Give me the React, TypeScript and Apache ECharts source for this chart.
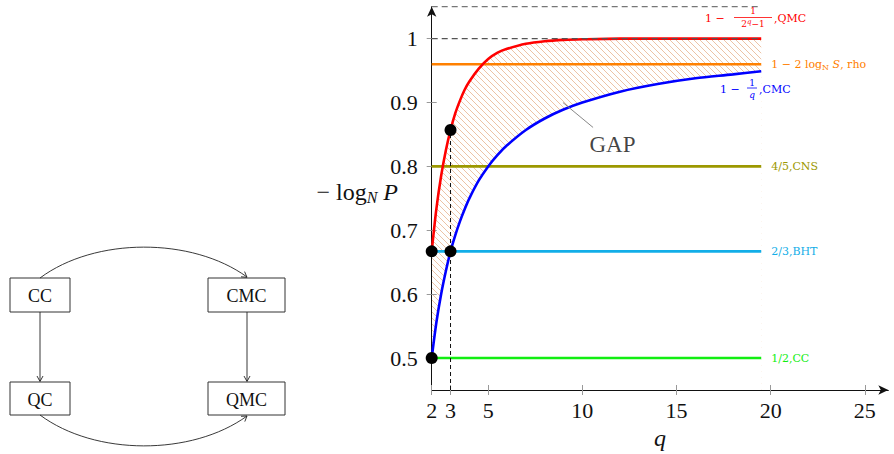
import React, { useEffect, useRef } from "react";
import * as echarts from "echarts";

// ---- data ----
const qSamples = [2, 2.25, 2.5, 2.75, 3, 3.25, 3.5, 3.75, 4, 4.5, 5, 5.5, 6, 7, 8, 9, 10, 12, 14, 16, 18, 19.5];
const qmcBound = [0.667, 0.734, 0.785, 0.825, 0.857, 0.883, 0.903, 0.92, 0.933, 0.953, 0.968, 0.978, 0.984, 0.992, 0.996, 0.998, 0.999, 1.0, 1.0, 1.0, 1.0, 1.0];
const cmcBound = [0.5, 0.556, 0.6, 0.636, 0.667, 0.692, 0.714, 0.733, 0.75, 0.778, 0.8, 0.818, 0.833, 0.857, 0.875, 0.889, 0.9, 0.917, 0.929, 0.938, 0.944, 0.949];
const levelNames = ["rho", "CNS", "BHT", "CC"];
const levelValues = [0.96, 0.8, 0.667, 0.5];
const levelLabels = ["1 − 2 log{sub|N} {it|S}, rho", "4/5,CNS", "2/3,BHT", "1/2,CC"];
const levelSpan = [2, 19.5];
const unitLevel = 1;
const topLevel = 1.05;
const xTicks = [2, 3, 5, 10, 15, 20, 25];
const yTicks = [0.5, 0.6, 0.7, 0.8, 0.9, 1];
const markerQ = [2, 2, 3, 3];
const markerValues = [0.5, 0.667, 0.667, 0.857];
const dropQ = 3;
const dropTop = 0.857;
const gapLabelAt = [11.6, 0.834];
const gapPointer = [[8.97, 0.9], [10.57, 0.861]];
const xRange = [2, 26.25];
const yRange = [0.45, 1.05];
const diagramNodes = ["CC", "CMC", "QC", "QMC"];

// ---- styles ----
const SERIF = "'Liberation Serif', 'DejaVu Serif', serif";
const SMALL = "'DejaVu Serif', serif";
const levelColors = ["#ff8000", "#9c9800", "#12aee8", "#11ee11"];
const RED = "#ff0000";
const BLUE = "#0000ff";

export default function App() {
  const ref = useRef<HTMLDivElement>(null);

  useEffect(() => {
    if (!ref.current) return;
    const chart = echarts.init(ref.current, null, { renderer: "svg" });

    const cv = document.createElement("canvas");
    cv.width = 6;
    cv.height = 6;
    const ctx = cv.getContext("2d")!;
    ctx.strokeStyle = "rgba(215,130,70,0.75)";
    ctx.lineWidth = 0.65;
    ctx.beginPath();
    ctx.moveTo(-1, -1);
    ctx.lineTo(7, 7);
    ctx.moveTo(-1, 5);
    ctx.lineTo(1, 7);
    ctx.moveTo(5, -1);
    ctx.lineTo(7, 1);
    ctx.stroke();
    const hatch: any = { image: cv, repeat: "repeat", imageWidth: 6, imageHeight: 6 };

    const redData = qSamples.map((q, i) => [q, qmcBound[i]]);
    const blueData = qSamples.map((q, i) => [q, cmcBound[i]]);

    const levelSeries = levelValues.map((v, i) => ({
      type: "line",
      name: levelNames[i],
      z: 4,
      data: [[levelSpan[0], v], [levelSpan[1], v]],
      symbol: "none",
      lineStyle: { color: levelColors[i], width: 2.6 },
      endLabel: {
        show: true,
        distance: 10,
        formatter: levelLabels[i],
        color: levelColors[i],
        fontFamily: SMALL,
        fontSize: 11,
        rich: {
          sub: { fontSize: 8, fontFamily: SMALL, color: levelColors[i], padding: [6, 0, 0, 0] },
          it: { fontSize: 11, fontFamily: SMALL, fontStyle: "italic", color: levelColors[i] },
        },
      },
    }));

    // left diagram
    const boxes = [
      { x: 10, y: 278, w: 60, h: 34 },
      { x: 208, y: 278, w: 77, h: 34 },
      { x: 10, y: 382, w: 60, h: 33 },
      { x: 208, y: 382, w: 77, h: 33 },
    ];
    const diagram: any[] = [];
    boxes.forEach((b, i) => {
      diagram.push({
        type: "rect",
        shape: { x: b.x, y: b.y, width: b.w, height: b.h },
        style: { fill: "#fff", stroke: "#333", lineWidth: 1 },
      });
      diagram.push({
        type: "text",
        x: b.x + b.w / 2,
        y: b.y + b.h / 2 + 1,
        style: { text: diagramNodes[i], fontFamily: SERIF, fontSize: 18, fill: "#111", align: "center", verticalAlign: "middle" },
      });
    });
    const arrowStyle = { stroke: "#222", lineWidth: 0.9, fill: null };
    diagram.push(
      { type: "line", shape: { x1: 40, y1: 312, x2: 40, y2: 381 }, style: arrowStyle },
      { type: "polyline", shape: { points: [[37, 376], [40, 381.5], [43, 376]] }, style: arrowStyle },
      { type: "line", shape: { x1: 247, y1: 312, x2: 247, y2: 381 }, style: arrowStyle },
      { type: "polyline", shape: { points: [[244, 376], [247, 381.5], [250, 376]] }, style: arrowStyle },
      { type: "bezierCurve", shape: { x1: 40, y1: 278, cpx1: 95, cpy1: 237, cpx2: 192, cpy2: 237, x2: 247, y2: 277 }, style: arrowStyle },
      { type: "polyline", shape: { points: [[241, 276.8], [247, 277.3], [244.6, 271.6]] }, style: arrowStyle },
      { type: "bezierCurve", shape: { x1: 40, y1: 415, cpx1: 95, cpy1: 456, cpx2: 192, cpy2: 456, x2: 247, y2: 416 }, style: arrowStyle },
      { type: "polyline", shape: { points: [[241, 416.3], [247, 416], [244.8, 421.6]] }, style: arrowStyle }
    );

    // fraction labels for the two bounds
    const fracLabels: any[] = [
      { type: "text", x: 705, y: 18, style: { text: "1 −", fontFamily: SMALL, fontSize: 11, fill: RED, verticalAlign: "middle" } },
      { type: "text", x: 753, y: 11, style: { text: "1", fontFamily: SMALL, fontSize: 9, fill: RED, align: "center", verticalAlign: "middle" } },
      { type: "line", shape: { x1: 734, y1: 17.5, x2: 772, y2: 17.5 }, style: { stroke: RED, lineWidth: 0.8 } },
      {
        type: "text", x: 753, y: 24,
        style: {
          text: "2{sup|q}−1", fontFamily: SMALL, fontSize: 9, fill: RED, align: "center", verticalAlign: "middle",
          rich: { sup: { fontSize: 7, fontStyle: "italic", fontFamily: SMALL, fill: RED, padding: [0, 0, 5, 0] } },
        },
      },
      { type: "text", x: 774, y: 18, style: { text: ",QMC", fontFamily: SMALL, fontSize: 11, fill: RED, verticalAlign: "middle" } },
      { type: "text", x: 720, y: 89, style: { text: "1 −", fontFamily: SMALL, fontSize: 11, fill: BLUE, verticalAlign: "middle" } },
      { type: "text", x: 752, y: 82.5, style: { text: "1", fontFamily: SMALL, fontSize: 9, fill: BLUE, align: "center", verticalAlign: "middle" } },
      { type: "line", shape: { x1: 747, y1: 88, x2: 757, y2: 88 }, style: { stroke: BLUE, lineWidth: 0.8 } },
      { type: "text", x: 752, y: 94.5, style: { text: "q", fontFamily: SMALL, fontStyle: "italic", fontSize: 9, fill: BLUE, align: "center", verticalAlign: "middle" } },
      { type: "text", x: 759, y: 89, style: { text: ",CMC", fontFamily: SMALL, fontSize: 11, fill: BLUE, verticalAlign: "middle" } },
      {
        type: "text", x: 398, y: 192,
        style: {
          text: "− log{sub|N} {it|P}", fontFamily: SERIF, fontSize: 24, fill: "#111", align: "right", verticalAlign: "middle",
          rich: {
            sub: { fontSize: 16, fontFamily: SERIF, fontStyle: "italic", fill: "#111", padding: [10, 0, 0, 0] },
            it: { fontSize: 24, fontFamily: SERIF, fontStyle: "italic", fill: "#111" },
          },
        },
      },
    ].map((g) => ({ ...g, z: 20 }));

    const tickStyle = { color: "#999", width: 1 };

    chart.setOption({
      animation: false,
      backgroundColor: "#fff",
      grid: {
        left: 431.7,
        top: 6.7,
        width: (xRange[1] - xRange[0]) * 18.83,
        height: 383.3,
        containLabel: false,
        outerBoundsMode: "none",
      },
      xAxis: [
        {
          type: "value",
          min: xRange[0],
          max: xRange[1],
          z: 3,
          name: "q",
          nameLocation: "middle",
          nameGap: 36,
          nameTextStyle: { fontFamily: SERIF, fontSize: 24, fontStyle: "italic", color: "#111" },
          axisLine: { show: true, onZero: false, symbol: ["none", "arrow"], symbolSize: [7, 10], lineStyle: { color: "#111", width: 1 } },
          axisTick: { show: true, customValues: xTicks, length: 5, lineStyle: tickStyle },
          axisLabel: { show: true, customValues: xTicks, margin: 9, fontFamily: SERIF, fontSize: 22, color: "#111" },
          splitLine: { show: false },
        },
        {
          type: "value",
          min: xRange[0],
          max: xRange[1],
          position: "bottom",
          z: 3,
          axisLine: { show: false },
          axisTick: { show: true, inside: true, customValues: xTicks, length: 5, lineStyle: tickStyle },
          axisLabel: { show: false },
          splitLine: { show: false },
        },
      ],
      yAxis: [
        {
          type: "value",
          min: yRange[0],
          max: yRange[1],
          z: 3,
          axisLine: { show: true, onZero: false, symbol: ["none", "arrow"], symbolSize: [7, 10], lineStyle: { color: "#111", width: 1 } },
          axisTick: { show: true, customValues: yTicks, length: 5, lineStyle: tickStyle },
          axisLabel: {
            show: true,
            customValues: yTicks,
            margin: 14,
            fontFamily: SERIF,
            fontSize: 22,
            color: "#111",
            formatter: (v: number) => (v === 1 ? "1" : v.toFixed(1)),
          },
          splitLine: { show: false },
        },
        {
          type: "value",
          min: yRange[0],
          max: yRange[1],
          position: "left",
          z: 3,
          axisLine: { show: false },
          axisTick: { show: true, inside: true, customValues: yTicks, length: 5, lineStyle: tickStyle },
          axisLabel: { show: false },
          splitLine: { show: false },
        },
      ],
      graphic: [...diagram, ...fracLabels],
      series: [
        {
          type: "line",
          name: "gapHatch",
          z: 1,
          data: redData,
          smooth: 0.3,
          symbol: "none",
          lineStyle: { width: 0 },
          areaStyle: { color: hatch, opacity: 1, origin: "start" },
          silent: true,
        },
        {
          type: "line",
          name: "mask",
          z: 2,
          data: blueData,
          smooth: 0.3,
          symbol: "none",
          lineStyle: { width: 0 },
          areaStyle: { color: "#ffffff", opacity: 1, origin: "start" },
          silent: true,
        },
        ...levelSeries,
        {
          type: "line",
          name: "CMC",
          z: 5,
          data: blueData,
          smooth: 0.3,
          symbol: "none",
          lineStyle: { color: BLUE, width: 2.6 },
        },
        {
          type: "line",
          name: "QMC",
          z: 5,
          data: redData,
          smooth: 0.3,
          symbol: "none",
          lineStyle: { color: RED, width: 2.6 },
        },
        {
          type: "line",
          name: "one",
          z: 6,
          data: [[levelSpan[0], unitLevel], [levelSpan[1], unitLevel]],
          symbol: "none",
          lineStyle: { color: "#555", width: 1.2, type: [6, 4] },
        },
        {
          type: "line",
          name: "top",
          z: 6,
          data: [[levelSpan[0], topLevel], [levelSpan[1], topLevel]],
          symbol: "none",
          lineStyle: { color: "#777", width: 1.2, type: [6, 4] },
        },
        {
          type: "line",
          name: "drop",
          z: 6,
          data: [[dropQ, yRange[0]], [dropQ, dropTop]],
          symbol: "none",
          lineStyle: { color: "#111", width: 1, type: [4, 3] },
        },
        {
          type: "line",
          name: "pointer",
          z: 6,
          data: gapPointer,
          symbol: "none",
          lineStyle: { color: "#888", width: 1 },
        },
        {
          type: "scatter",
          name: "gapLabel",
          z: 7,
          data: [gapLabelAt],
          symbolSize: 0,
          label: { show: true, position: "inside", formatter: "GAP", fontFamily: SERIF, fontSize: 23, color: "#111" },
        },
        {
          type: "scatter",
          name: "markers",
          z: 8,
          data: markerQ.map((q, i) => [q, markerValues[i]]),
          symbol: "circle",
          symbolSize: 12,
          itemStyle: { color: "#000", opacity: 1 },
        },
      ],
    } as any);

    return () => chart.dispose();
  }, []);

  return (
    <div
      ref={ref}
      style={{ position: "fixed", left: 0, top: 0, width: 894, height: 454, background: "#fff" }}
    />
  );
}
